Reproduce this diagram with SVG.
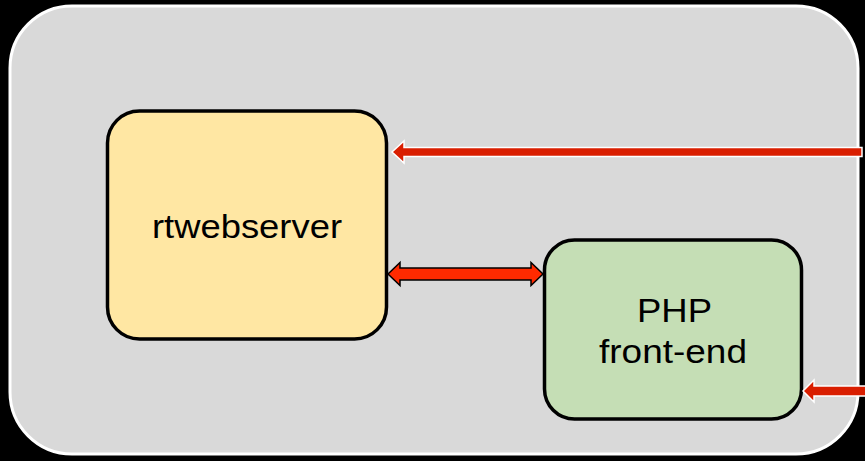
<svg xmlns="http://www.w3.org/2000/svg" width="865" height="461" viewBox="0 0 865 461">
  <style>
    .box { stroke: #000; stroke-width: 3.5; }
    .lbl { font-family: "Liberation Sans", Arial, sans-serif; font-size: 33px; fill: #000; text-anchor: middle; }
    .inarrow { fill: #d91e00; stroke: #fff; stroke-width: 1.5; stroke-linejoin: miter; }
    .dbl { fill: #ff2a00; stroke: #000; stroke-width: 1.5; stroke-linejoin: miter; }
  </style>
  <rect x="0" y="0" width="865" height="461" fill="#000"/>
  <rect id="frame" x="10" y="6" width="848" height="448" rx="62" ry="62" fill="#d9d9d9" stroke="#fff" stroke-width="3"/>
  <g id="rtwebserver">
    <rect class="box" x="107.5" y="111" width="279" height="228" rx="32" ry="32" fill="#ffe7a3"/>
    <text class="lbl" x="247" y="238" textLength="190" lengthAdjust="spacingAndGlyphs">rtwebserver</text>
  </g>
  <g id="php-frontend">
    <rect class="box" x="544.5" y="240" width="257" height="179" rx="30" ry="30" fill="#c5deb5"/>
    <text class="lbl" x="674.5" y="322" textLength="75" lengthAdjust="spacingAndGlyphs">PHP</text>
    <text class="lbl" x="673" y="363" textLength="148" lengthAdjust="spacingAndGlyphs">front-end</text>
  </g>
  <g id="connectors">
    <polygon class="inarrow" points="392,152 404,141 404,147.5 862,147.5 862,156.5 404,156.5 404,163"/>
    <polygon class="inarrow" points="803,391 814,380 814,386 866,386 866,396 814,396 814,402"/>
    <polygon class="dbl" points="388,274 400,262.5 400,268 531,268 531,262.5 543,274 531,285.5 531,280 400,280 400,285.5"/>
  </g>
</svg>
